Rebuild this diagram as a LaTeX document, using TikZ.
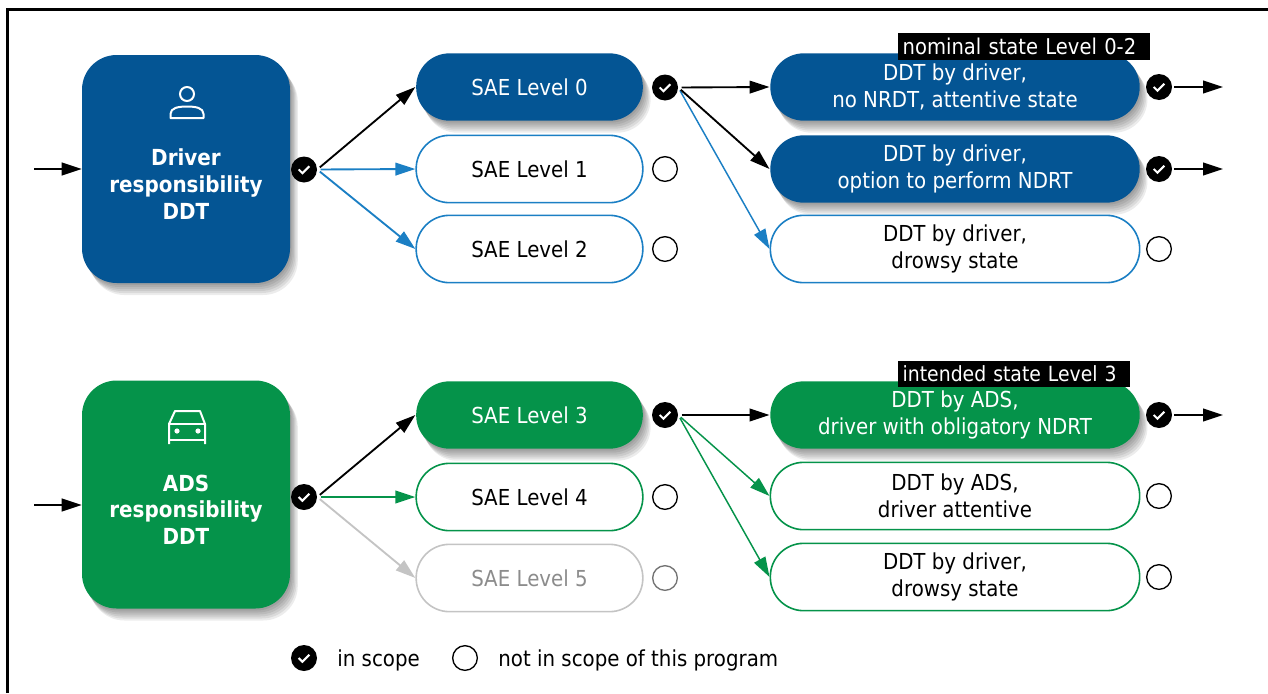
\documentclass[tikz,border=0pt]{standalone}
\usepackage{fontspec}
\setmainfont{DejaVu Sans}[FakeStretch=0.9]
\usepackage{xcolor}
\usepackage{tikz}
\usetikzlibrary{positioning}
\usetikzlibrary{arrows.meta}
\definecolor{drvblue}{HTML}{045594}
\definecolor{lineblue}{HTML}{1B7FC4}
\definecolor{adsgreen}{HTML}{05934A}
\definecolor{greyline}{HTML}{C4C4C4}
\tikzset{%
  shadowlayer/.style={preaction={fill=black,fill opacity=0.075,transform canvas={xshift=#1*0.65pt,yshift=-#1*1pt}}},
  softshadow/.style={shadowlayer=1.5,shadowlayer=3,shadowlayer=4.5,shadowlayer=6,shadowlayer=7.5,shadowlayer=9},
  bigbox/.style={rectangle,rounded corners=26pt,minimum width=156pt,minimum height=171pt,align=center,text=white,font=\fontsize{16.6}{20}\selectfont\bfseries,softshadow},
  pillshort/.style={rectangle,rounded corners=25pt,line width=1.2pt,minimum width=170pt,minimum height=50.5pt,align=center,font=\fontsize{16.5}{20}\selectfont},
  pilllong/.style={rectangle,rounded corners=25pt,line width=1.2pt,minimum width=277pt,minimum height=50.5pt,align=center,font=\fontsize{16.5}{20}\selectfont},
  filled/.style={softshadow,text=white},
  checkmark/.style={circle,fill=black,minimum size=19.5pt,inner sep=0pt,path picture={\draw[white,line width=1.5pt] ([xshift=-4pt]path picture bounding box.center) -- ++(2.8pt,-2.8pt) -- ++(5.2pt,5.2pt);}},
  nocheck/.style={circle,draw=black,fill=white,line width=1pt,minimum size=18.5pt,inner sep=0pt},
  tagbox/.style={fill=black,text=white,inner xsep=3.5pt,inner ysep=0pt,minimum height=20pt,align=left,font=\fontsize{16.3}{18}\selectfont},
  legendtext/.style={font=\fontsize{16.5}{18}\selectfont,anchor=west},
  flow/.style={-{Triangle[length=15pt,width=9.5pt]},line width=1.4pt,shorten <=2.5pt},
  inflow/.style={flow,shorten <=0pt},
  thinflow/.style={flow,line width=1.1pt}
}
\begin{document}
\begin{tikzpicture}[x=0.75pt,y=-0.75pt]
  \useasboundingbox (0,0) rectangle (1268,693);
  \draw[line width=1.6pt] (7.5,693) -- (7.5,9.5) -- (1268,9.5);

  % driver row
  \node[bigbox,fill=drvblue] (driver) at (186,169) {\\[15pt]Driver\\responsibility\\DDT};
  \node[pillshort,fill=drvblue,filled] (sae0) at (529.5,87) {SAE Level 0};
  \node[pillshort,draw=lineblue,fill=white] (sae1) at (529.5,169) {SAE Level 1};
  \node[pillshort,draw=lineblue,fill=white] (sae2) at (529.5,249) {SAE Level 2};
  \node[pilllong,fill=drvblue,filled] (attentive) at (955,87) {DDT by driver,\\no NRDT, attentive state};
  \node[pilllong,fill=drvblue,filled] (option) at (955,169) {DDT by driver,\\option to perform NDRT};
  \node[pilllong,draw=lineblue,fill=white] (drowsya) at (955,249) {DDT by driver,\\drowsy state};
  \node[tagbox,text width=182pt] (nominal) at (1024,46.5) {nominal state Level 0-2};

  % ads row
  \node[bigbox,fill=adsgreen] (ads) at (186,494.5) {\\[15pt]ADS\\responsibility\\DDT};
  \node[pillshort,fill=adsgreen,filled] (sae3) at (529.5,415) {SAE Level 3};
  \node[pillshort,draw=adsgreen,fill=white] (sae4) at (529.5,497) {SAE Level 4};
  \node[pillshort,draw=greyline,fill=white,text=black!45] (sae5) at (529.5,578) {SAE Level 5};
  \node[pilllong,fill=adsgreen,filled] (obligatory) at (955,415) {DDT by ADS,\\driver with obligatory NDRT};
  \node[pilllong,draw=adsgreen,fill=white] (attentiveb) at (955,496) {DDT by ADS,\\driver attentive};
  \node[pilllong,draw=adsgreen,fill=white] (drowsyb) at (955,577) {DDT by driver,\\drowsy state};
  \node[tagbox,text width=167pt,font=\fontsize{15.7}{18}\selectfont] (intended) at (1014,374) {intended state Level 3};

  % status marks
  \node[checkmark] (chkdriver) at (304,169.5) {};
  \node[checkmark] (chksae0) at (665,87.5) {};
  \node[nocheck] (nosae1) at (665,169) {};
  \node[nocheck] (nosae2) at (665,249) {};
  \node[checkmark] (chkattentive) at (1159,87) {};
  \node[checkmark] (chkoption) at (1159,169) {};
  \node[nocheck] (nodrowsya) at (1159,249) {};
  \node[checkmark] (chkads) at (304,497) {};
  \node[checkmark] (chksae3) at (665,415) {};
  \node[nocheck] (nosae4) at (665,497) {};
  \node[nocheck,draw=black!55] (nosae5) at (665,578) {};
  \node[checkmark] (chkobligatory) at (1159,415) {};
  \node[nocheck] (noattentiveb) at (1159,496) {};
  \node[nocheck] (nodrowsyb) at (1159,577) {};

  % free ends
  \coordinate (indriver) at (34,169);
  \coordinate (inads) at (34,505);
  \coordinate (outattentive) at (1223,87);
  \coordinate (outoption) at (1223,169);
  \coordinate (outobligatory) at (1223,415);

  % connectors
  \draw[inflow] (indriver) -- (driver.west);
  \draw[inflow] (inads) -- (ads.west |- inads);
  \draw[flow,lineblue] (chkdriver.east) -- (sae1.west);
  \draw[flow,lineblue] (chkdriver.east) -- (sae2.west);
  \draw[flow] (chkdriver.east) -- (sae0.west);
  \draw[thinflow,lineblue] (chksae0.east) -- (drowsya.west);
  \draw[flow] (chksae0.east) -- (attentive.west);
  \draw[flow] (chksae0.east) -- (option.west);
  \draw[flow,shorten <=1.5pt] (chkattentive.east) -- (outattentive);
  \draw[flow,shorten <=1.5pt] (chkoption.east) -- (outoption);
  \draw[flow,greyline] (chkads.east) -- (sae5.west);
  \draw[flow,adsgreen] (chkads.east) -- (sae4.west);
  \draw[flow] (chkads.east) -- (sae3.west);
  \draw[thinflow,adsgreen] (chksae3.east) -- (attentiveb.west);
  \draw[thinflow,adsgreen] (chksae3.east) -- (drowsyb.west);
  \draw[flow] (chksae3.east) -- (obligatory.west);
  \draw[flow,shorten <=1.5pt] (chkobligatory.east) -- (outobligatory);

  % icons
  \draw[white,line width=1.5pt] (187,94) circle (7);
  \draw[white,line width=1.5pt,line join=round] (170.5,118) -- (170.5,114) .. controls (170.5,108) and (178,106.5) .. (187,106.5) .. controls (196,106.5) and (203.5,108) .. (203.5,114) -- (203.5,118) -- cycle;
  \draw[white,line width=1.5pt,line join=round] (169,444) -- (169,424) -- (175,411) -- (200,411) -- (205,424) -- (205,444);
  \draw[white,line width=1.5pt] (169,424) -- (205,424);
  \draw[white,line width=1.5pt] (169,440) -- (205,440);
  \fill[white] (177,431) circle (2.6);
  \fill[white] (198,431) circle (2.6);

  % legend
  \node[checkmark] (legendchk) at (304,658) {};
  \node[legendtext,right=21.5pt of legendchk.center,yshift=-1.5pt] (legendin) {in scope};
  \node[nocheck] (legendno) at (465,658) {};
  \node[legendtext,right=21.5pt of legendno.center,yshift=-1.5pt] (legendout) {not in scope of this program};
\end{tikzpicture}
\end{document}
